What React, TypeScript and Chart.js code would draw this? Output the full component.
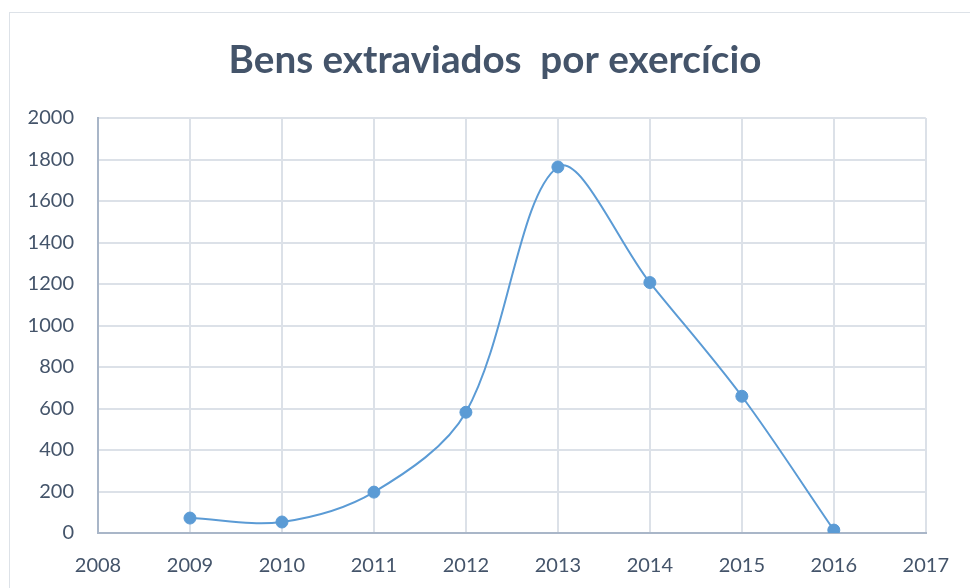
import React, { useEffect, useRef } from "react";
import { Chart, registerables } from "chart.js";

Chart.register(...registerables);

const TITLE = "Bens extraviados  por exercício";
const YEARS = [2009, 2010, 2011, 2012, 2013, 2014, 2015, 2016];
const VALUES = [72, 53, 197, 582, 1764, 1207, 659, 14];
const X_MIN = 2008;
const X_MAX = 2017;
const Y_MIN = 0;
const Y_MAX = 2000;
const Y_STEP = 200;

const TEXT_COLOR = "#44546A";
const LINE_COLOR = "#5B9BD5";
const GRID_COLOR = "#DCE1E8";
const AXIS_COLOR = "#A9B6C8";

const W = 970;
const H = 588;
const AREA = { left: 98, top: 118, right: 928, bottom: 533 };

const titlePlugin = {
  id: "customTitle",
  afterDraw(chart: any) {
    const ctx = chart.ctx as CanvasRenderingContext2D;
    ctx.save();
    let size = 36;
    ctx.font = `bold ${size}px Lato`;
    const w = ctx.measureText(TITLE).width;
    size = size * (533 / w);
    ctx.font = `bold ${size}px Lato`;
    ctx.fillStyle = TEXT_COLOR;
    ctx.textAlign = "center";
    ctx.textBaseline = "alphabetic";
    ctx.fillText(TITLE, 495, 73);
    ctx.restore();
  },
};

export default function App() {
  const ref = useRef<HTMLCanvasElement | null>(null);
  useEffect(() => {
    if (!ref.current) return;
    const chart = new Chart(ref.current, {
      type: "line",
      data: {
        datasets: [
          {
            data: YEARS.map((x, i) => ({ x, y: VALUES[i] })),
            borderColor: LINE_COLOR,
            backgroundColor: LINE_COLOR,
            borderWidth: 2,
            pointRadius: 6,
            pointHoverRadius: 6,
            pointBackgroundColor: LINE_COLOR,
            pointBorderColor: LINE_COLOR,
            pointBorderWidth: 1,
            tension: 0.33,
            fill: false,
          },
        ],
      },
      options: {
        responsive: false,
        animation: false,
        events: [],
        layout: { padding: { top: AREA.top, right: W - AREA.right, left: 0, bottom: 0 } },
        plugins: { legend: { display: false }, title: { display: false }, tooltip: { enabled: false } },
        scales: {
          x: {
            type: "linear",
            min: X_MIN,
            max: X_MAX,
            ticks: {
              stepSize: 1,
              autoSkip: false,
              maxRotation: 0,
              color: TEXT_COLOR,
              font: { family: "Lato", size: 20 },
              padding: 21,
              callback: (v: any) => String(v),
            },
            grid: { color: GRID_COLOR, lineWidth: 2, drawTicks: false },
            border: { color: AXIS_COLOR, width: 2 },
            afterFit: (s: any) => {
              s.height = H - AREA.bottom;
            },
          },
          y: {
            min: Y_MIN,
            max: Y_MAX,
            ticks: {
              stepSize: Y_STEP,
              color: TEXT_COLOR,
              font: { family: "Lato", size: 20 },
              padding: 24,
              callback: (v: any) => String(v),
            },
            grid: { color: GRID_COLOR, lineWidth: 2, drawTicks: false },
            border: { color: AXIS_COLOR, width: 2 },
            afterFit: (s: any) => {
              s.width = AREA.left;
            },
          },
        },
      },
      plugins: [titlePlugin],
    });
    return () => chart.destroy();
  }, []);

  return (
    <div style={{ position: "fixed", left: 0, top: 0, width: W, height: H, background: "#fff", overflow: "hidden" }}>
      <div
        style={{
          position: "absolute",
          left: 9,
          top: 12,
          width: W + 20,
          height: H + 20,
          border: "1.5px solid #DDE2E8",
        }}
      />
      <canvas ref={ref} width={W} height={H} style={{ position: "absolute", left: 0, top: 0 }} />
    </div>
  );
}
